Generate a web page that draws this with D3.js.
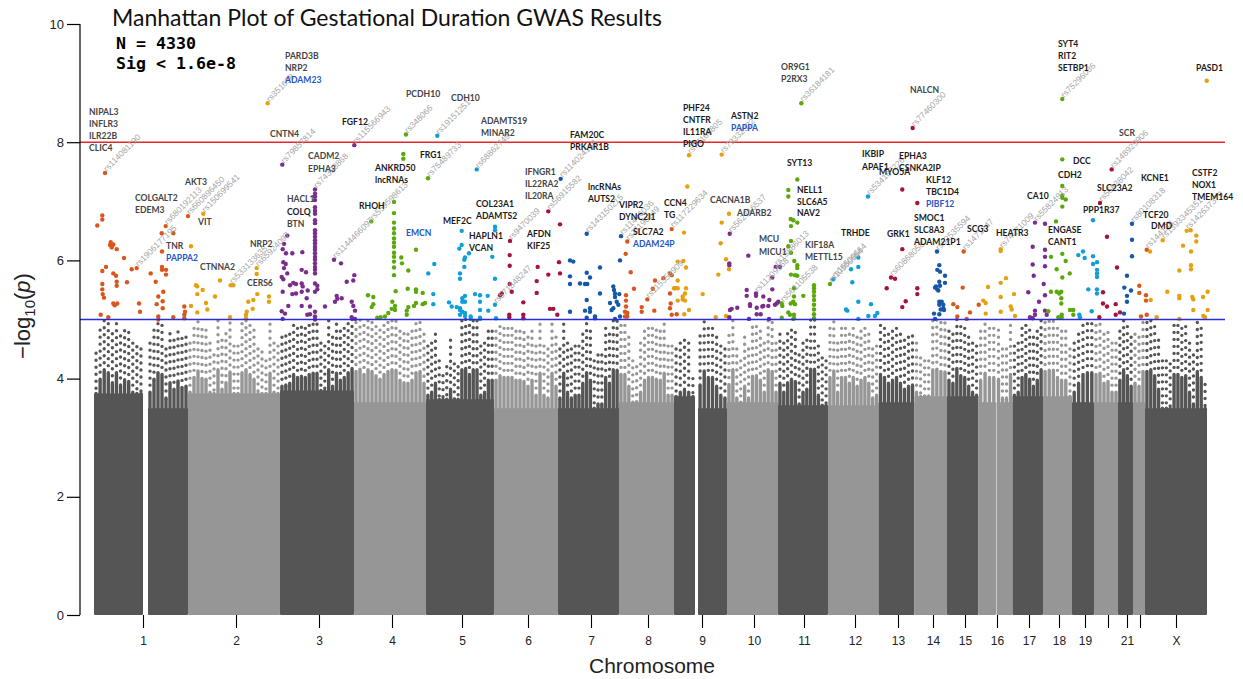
<!DOCTYPE html>
<html>
<head>
<meta charset="utf-8">
<script src="https://cdnjs.cloudflare.com/ajax/libs/d3/7.8.5/d3.min.js"></script>
<style>
  html, body { margin: 0; padding: 0; background: #fff; }
  svg { display: block; }
  text { font-family: "Liberation Sans", sans-serif; }
</style>
</head>
<body>
<div id="plot"></div>
<script>
var svgWidth = 1243;
var svgHeight = 679;

// chromosome blocks along the genome axis (chr1, chr9 and chr16 are split by their gaps)
var blockStart = [94, 148, 188, 280, 354, 426, 494, 558, 619, 674, 698, 727, 778, 828, 878.5, 914.5, 947, 978.5, 996.5, 1012.5, 1043, 1072, 1094, 1118, 1133, 1145];
var blockEnd = [143, 188, 280, 354, 426, 494, 558, 619, 674, 695, 727, 778, 828, 878.5, 914.5, 947, 978.5, 996, 1012.5, 1043, 1072, 1094, 1118, 1133, 1145, 1207];
var blockDark = [1, 1, 0, 1, 0, 1, 0, 1, 0, 1, 1, 0, 1, 0, 1, 0, 1, 0, 0, 1, 0, 1, 0, 1, 0, 1];
// level the grey cloud is solid up to, per block
var blockSolid = [3.75, 3.5, 3.75, 3.8, 3.6, 3.65, 3.5, 3.5, 3.6, 3.7, 3.5, 3.6, 3.55, 3.55, 3.6, 3.7, 3.7, 3.6, 3.6, 3.7, 3.7, 3.6, 3.6, 3.6, 3.6, 3.5];
// top of the grey cloud across each block
var blockPeaks = [
  [4.43, 4.82, 4.98, 4.93, 4.76, 4.93, 4.72, 4.81, 4.78, 4.6, 4.54, 4.5],
  [4.6, 4.82, 4.93, 4.9, 4.5, 4.76, 4.65, 4.79, 4.68, 4.7],
  [4.6, 4.85, 4.96, 4.83, 4.82, 4.6, 4.4, 4.98, 4.65, 4.76, 4.94, 4.55, 4.55, 4.93, 4.98, 4.9, 4.82, 4.5, 4.45, 4.3, 4.92, 4.6, 4.55],
  [4.7, 4.72, 4.75, 4.9, 4.85, 4.87, 4.85, 4.9, 4.92, 4.92, 4.6, 4.55, 4.98, 4.7, 4.92, 4.8, 4.85, 4.93, 5.0],
  [4.95, 4.99, 4.9, 4.98, 4.95, 4.88, 4.82, 4.9, 4.95, 4.98, 4.97, 4.8, 4.76, 4.75, 4.8, 4.93, 4.95, 4.75],
  [4.55, 4.6, 4.75, 4.3, 4.05, 4.2, 4.65, 4.25, 4.2, 4.98, 5.0, 4.9, 4.98, 4.98, 4.55, 4.6, 4.8, 4.8],
  [4.8, 4.88, 4.85, 4.85, 4.85, 4.8, 4.8, 4.78, 4.7, 4.8, 4.55, 4.92, 4.55, 4.5, 4.92, 4.7],
  [4.5, 4.92, 4.6, 4.5, 4.55, 4.55, 4.75, 4.93, 4.8, 4.3, 4.4, 4.4, 4.85, 4.75, 4.98, 4.97],
  [4.9, 4.9, 4.7, 4.3, 4.2, 4.6, 4.8, 4.85, 4.85, 4.82, 4.8, 4.92, 4.55, 4.55],
  [4.5, 4.6, 4.65, 4.6, 4.0],
  [4.72, 4.96, 4.85, 4.85, 4.7, 4.55, 4.5],
  [4.73, 4.98, 4.5, 4.3, 4.7, 4.5, 4.87, 4.88, 4.8, 4.6, 4.98, 4.95, 4.6],
  [4.75, 4.6, 4.76, 4.82, 4.78, 4.4, 4.6, 4.65, 4.99, 4.99, 4.55, 4.35, 4.3],
  [4.85, 4.96, 4.6, 4.85, 4.85, 4.75, 4.85, 4.7, 4.8, 4.85, 4.75, 4.5, 4.55],
  [4.9, 4.85, 4.75, 4.8, 4.85, 4.75, 4.65, 4.7, 4.72],
  [4.6, 4.35, 4.3, 4.3, 4.98, 4.99, 4.95, 4.94],
  [4.8, 4.75, 5.0, 4.88, 4.85, 4.7, 4.6, 4.55],
  [4.8, 4.92, 4.85, 4.85],
  [4.82, 4.5, 4.5, 4.9],
  [4.55, 4.6, 4.85, 4.9, 4.82, 4.7, 4.8, 4.98],
  [4.95, 4.97, 4.97, 4.85, 4.8, 4.8, 4.5],
  [4.6, 4.75, 4.9, 4.93, 4.93],
  [4.9, 4.92, 4.75, 4.78, 4.6, 4.6],
  [4.8, 4.98, 4.88, 4.7],
  [4.75, 4.7, 4.95],
  [4.95, 4.98, 4.88, 4.65, 4.3, 4.3, 4.25, 4.9, 4.9, 4.85, 4.88, 4.6, 4.4, 4.95, 4.85, 3.9]
];

// variants above -log10(p) = 5, [genome position, -log10(p)]
var hitsRed = [[105,7.48],[102.3,6.76],[102.3,6.69],[97.3,6.59],[110.7,6.31],[110,6.26],[112.7,6.26],[111.7,6.22],[113.3,6.27],[116.7,6.19],[124,6.04],[106,5.89],[102.3,5.82],[113.3,5.78],[116,5.74],[116.7,5.64],[116.7,5.57],[102.3,5.6],[102.3,5.51],[102.7,5.43],[104,5.37],[113.3,5.27],[114.7,5.24],[117.3,5.27],[127,5.63],[100.7,5.08],[108.3,5.04],[131.7,5.85],[136.7,5.87],[150.7,5.78],[155.7,5.64],[162,5.89],[162,5.84],[166,5.84],[166,5.76],[163.3,5.47],[158.3,5.39],[156.7,5.26],[162.7,5.31],[162.7,5.19],[139,5.27],[140,5.13],[158.3,5.05],[158.3,5],[173.3,5.04],[184.3,5.22],[185,5.13],[184.3,5.08],[184.3,5.02],[162,6.15],[161.7,6.46],[173.3,6.46],[165.7,6.58],[188,6.75],
  [627.3,6.32],[625.7,6.11],[630.7,5.8],[634,5.52],[626,5.41],[626,5.32],[626,5.22],[625,5.13],[627.3,5.11],[627.3,5.05],[625,5.05],[671.7,6.53],[655,5.66],[652.7,5.52],[647.3,5.34],[641.7,5.21],[641.7,5.13],[654.3,5.15],[663.3,5.7],[670,5.78],[671.7,5.75],[670,5.44],[675,5.53],[670.7,5.27],[670,5.19],[671.7,5.08],[676.7,5.09],
  [963.7,6.15],[962.7,5.54],[953.3,5.26],[957.3,5.21],[957.3,5.05],[970,5.12],[978.7,5.25],[966.7,5.01],
  [1146.7,6.18],[1139.3,5.57],[1139.3,5.45],[1146,5.41],[1146,5.32],[1146.7,5.08],[1141,5.05]];
var hitsAmber = [[267.7,8.66],[203.3,6.79],[191,6.24],[220,5.66],[230.7,5.58],[233.3,5.58],[196,5.58],[197.3,5.56],[202.7,5.5],[197.3,5.43],[215,5.39],[206,5.28],[207.3,5.17],[191,5.23],[197.3,5.12],[230,5.04],[246.7,5.13],[246,5.08],[246,5.02],[248.3,5.3],[253.3,5.33],[252.7,5.18],[256.7,5.87],[256.7,5.77],[257.3,5.43],[269,5.39],[269,5.3],
  [689,7.78],[721.7,7.79],[687.3,7.25],[684,6.47],[677.7,5.98],[683.3,5.99],[686,5.88],[677.7,5.66],[674,5.53],[677.7,5.53],[686,5.53],[685,5.44],[682.7,5.39],[682.7,5.34],[677.7,5.32],[685,5.32],[689,5.16],[684.3,5.09],[702.7,5.43],[729,6.79],[721.7,6.64],[720.7,6.29],[726,6.02],[729,5.85],[718.3,5.76],[715.7,5.04],[726,5.06],
  [1000.7,6.19],[1000.7,6.16],[1006,5.7],[1000.7,5.62],[988,5.55],[1000.7,5.38],[1014,5.43],[983.3,5.32],[985.7,5.28],[985.7,5.1],[1010.7,5.22],[1011.7,5.17],[1000.7,5.13],[1015,5.06],
  [1206.7,9.04],[1150,6.15],[1162.7,6.34],[1186.7,6.5],[1190.7,6.51],[1196.3,6.42],[1196.3,6.32],[1183,6.25],[1191,6.15],[1191,5.92],[1191,5.85],[1179.3,5.83],[1167.3,5.47],[1179.3,5.4],[1179.3,5.36],[1192.3,5.38],[1193.3,5.34],[1203,5.38],[1207.7,5.47],[1193.3,5.16],[1207.7,5.16],[1203.3,5.06],[1205,5.04],[1179.3,5.01],[1156.7,5.04],[1150.7,5.33]];
var hitsPurple = [[282.3,7.62],[354.3,7.95],[315,7.2],[315,7.13],[315,7.08],[315,7.02],[315,6.9],[315,6.84],[315,6.79],[315,6.68],[315,6.63],[315,6.51],[315,6.46],[315,6.4],[315,6.34],[315,6.29],[315,6.23],[315,6.18],[315,6.12],[315,6.06],[315,6.01],[315,5.95],[315,5.89],[315,5.84],[315,5.78],[287.3,6.42],[284,6.28],[282.7,6.19],[286,6.12],[292.3,6.12],[302.3,6.14],[283.3,5.97],[285.7,5.94],[284,5.87],[287.3,5.78],[281.7,5.72],[283.3,5.68],[301.7,5.84],[306,5.8],[282.7,5.47],[290,5.58],[293.3,5.62],[296,5.6],[301.7,5.61],[302.7,5.56],[301.7,5.47],[292.3,5.43],[296,5.44],[307.7,5.49],[306.7,5.36],[288.3,5.23],[301.7,5.23],[281.7,5.14],[285,5.1],[282.7,5.01],[310,5.22],[315,5.61],[317.3,5.57],[317.3,5.51],[315,5.47],[325,5.22],[307.3,5.08],[310,5.09],[315,5.13],[315,5.05],[315,5],[334,6.01],[341,5.95],[346.7,5.64],[354.3,5.75],[353.3,5.66],[336.7,5.4],[337.3,5.35],[341.7,5.36],[335,5.3],[351.7,5.3],[353.3,5.23],[355,5.15],[351.7,5.04],[355,5.01],
  [729.7,6.45],[748.3,6.08],[729.3,5.95],[729.3,5.92],[775.7,5.89],[780,5.89],[772.3,5.71],[746.7,5.5],[756,5.44],[756,5.4],[746.7,5.4],[763.3,5.39],[772.3,5.51],[750,5.26],[750,5.23],[769.3,5.33],[756.7,5.2],[762.3,5.22],[763.3,5.23],[768.3,5.23],[760.7,5.09],[756.7,5.09],[775,5.25],[776.7,5.27],[778.3,5.3],[737.3,5.2],[731.7,5.18],[730,5.16],[729.3,5.04],[769,5.01],[749,5.01],
  [1035,6.64],[1045,6.62],[1032.7,6.23],[1045,6.18],[1045,6.06],[1032.7,5.93],[1045,5.9],[1033.7,5.74],[1043.7,5.6],[1028.3,5.46],[1045,5.41],[1039,5.3],[1035,5.15],[1045,5.15],[1035,5.08],[1030,5.04],[1032.7,5.02],[1046.7,5.08]];
var hitsGreen = [[371.3,6.66],[406,8.13],[403.3,7.8],[403.3,7.72],[428,7.39],[394,6.99],[394,6.8],[394,6.64],[394,6.54],[394,6.46],[394,6.37],[394,6.3],[394,6.23],[394,6.13],[394,6.06],[394,5.98],[394,5.88],[394,5.75],[416,6.18],[401.3,6.05],[402,5.95],[408.3,5.83],[368,5.41],[373.3,5.38],[373.3,5.26],[371.7,5.21],[395.7,5.48],[407.7,5.52],[416,5.51],[416,5.47],[422.7,5.45],[425,5.28],[422.7,5.26],[416,5.28],[414,5.23],[408.3,5.21],[406.7,5.15],[406.7,5.08],[392.3,5.3],[395,5.23],[395,5.16],[391.7,5.18],[388.3,5.11],[385,5.05],[380.7,5.04],[377.3,5.03],
  [801.3,8.66],[797.3,7.37],[788.3,7.19],[788.3,7.08],[790.7,6.7],[793.3,6.68],[797.3,6.64],[791,6.58],[791,6.33],[788.3,6.24],[791,6.13],[794.3,5.99],[797.3,5.92],[797.3,5.87],[791,5.76],[795,5.75],[797.3,5.74],[814,5.58],[814,5.53],[814,5.47],[814,5.4],[814,5.33],[814,5.25],[814,5.17],[814,5.09],[814,5.02],[803.3,5.4],[794,5.53],[794,5.39],[793.3,5.3],[790.7,5.27],[795,5.26],[781.7,5.27],[782.3,5.23],[788.3,5.12],[790,5.08],[794,5.08],[781.7,5.03],[794,5.02],[793.3,5.01],[830,5.6],
  [1062.3,8.73],[1062.3,7.71],[1062.3,7.26],[1062.3,7.1],[1062.3,7.06],[1065.7,7.03],[1062.3,6.91],[1056,6.66],[1062.3,6.11],[1051,6.06],[1065.7,5.99],[1056.7,5.85],[1069.7,5.78],[1062.3,5.71],[1051,5.47],[1056.7,5.47],[1059.3,5.44],[1061.3,5.47],[1061.3,5.36],[1061.3,5.27],[1048.3,5.14],[1070,5.16],[1073.3,5.16],[1073.3,5.08],[1061.7,5.08],[1058.3,5.04],[1061.7,5.04]];
var hitsSky = [[437.3,8.11],[476.7,7.54],[461.7,6.5],[495,6.57],[495,6.51],[461.7,6.26],[459.3,6.2],[469,6.12],[465,6.05],[464.3,6.01],[464.3,5.89],[492.3,6.06],[434.3,5.94],[428.3,5.78],[460,5.78],[460,5.69],[495,5.69],[433.3,5.43],[433.3,5.26],[449,5.29],[451.7,5.22],[456.7,5.21],[460,5.19],[465,5.4],[462.3,5.36],[462.3,5.3],[465,5.3],[460,5.16],[462.3,5.13],[465,5.11],[460,5.08],[465,5.06],[470.7,5.05],[475,5.43],[480,5.41],[487.7,5.4],[480,5.3],[495,5.25],[480,5.16],[488.3,5.15],[480,5.03],[496,5.02],[470.7,5.01],[480,5.01],
  [833.3,5.68],[858.3,6.05],[851,5.85],[858.3,5.89],[852.3,5.63],[858.3,5.3],[871,5.26],[846,5.17],[847.3,5.15],[877.3,5.11],[875,5.06],[868.3,5.06],[858.3,5.01],[868,7.08],
  [1093,6.68],[1078.3,6.09],[1083,6.15],[1084.7,6.04],[1093,6.07],[1097,5.97],[1093,5.94],[1097,5.84],[1097,5.78],[1097,5.72],[1088.3,5.51],[1097,5.51],[1097,5.44],[1091.7,5.14],[1079.3,5.08],[1080,5.04]];
var hitsCrimson = [[548.3,6.83],[560,6.61],[510,6.33],[509.7,6.09],[509.7,5.91],[537.7,5.89],[536.7,5.65],[509.7,5.6],[511.7,5.47],[536.7,5.45],[559,5.97],[548.3,5.76],[560,5.78],[500,5.41],[501.7,5.44],[523.3,5.29],[550,5.18],[553.3,5.18],[557.3,5.08],[509.3,5.08],[509.3,5.04],[523.3,5.08],[523.3,5.02],
  [912.7,8.24],[902.3,7.2],[917.3,6.97],[902.3,6.19],[891,5.71],[895,5.69],[886.7,5.53],[917.3,5.53],[917.3,5.43],[905.7,5.31],[902.3,5.21],
  [1111.7,7.54],[1100,6.97],[1107,6.4],[1117,5.88],[1103,5.46],[1103,5.27],[1107,5.22],[1115.7,5.26],[1120,5.12],[1115.7,5.08],[1099.3,5.04]];
var hitsBlue = [[560.7,7.38],[586.7,6.45],[621,6.41],[620,6],[570,6],[573.3,5.98],[600,5.88],[586.7,5.79],[570,5.73],[590,5.71],[570,5.6],[580,5.61],[585,5.6],[587.3,5.6],[600,5.44],[613.3,5.56],[614,5.5],[615,5.44],[619.3,5.43],[615,5.38],[610,5.28],[616.7,5.3],[613.3,5.19],[611.7,5.16],[618.3,5.25],[586.7,5.33],[570,5.13],[585,5.15],[590,5.19],[590,5.13],[586.7,5.03],[595,5.05],[595,5.02],[615,5.01],[620,5.05],
  [937,6.15],[939.3,5.92],[937.3,5.84],[940,5.81],[945,5.74],[939.3,5.64],[945,5.62],[936,5.56],[935,5.54],[937.3,5.51],[938.3,5.49],[940,5.57],[939.3,5.3],[941.7,5.3],[939.3,5.25],[943.3,5.25],[943.3,5.19],[940.7,5.17],[944,5.16],[934,5.1],[935,5.01],[939.3,5.09],
  [1132,6.62],[1132,6.35],[1132,6.07],[1127,5.74],[1124.3,5.54],[1131,5.49],[1127,5.4],[1127,5.3],[1124,5.1]];

var hitGroups = [
  { color: "#d9561c", points: hitsRed },
  { color: "#e5a00d", points: hitsAmber },
  { color: "#7b2d8e", points: hitsPurple },
  { color: "#5aa80a", points: hitsGreen },
  { color: "#0f9fd8", points: hitsSky },
  { color: "#a5123c", points: hitsCrimson },
  { color: "#1557a8", points: hitsBlue }
];

var tickPositions = [143, 236, 319, 392, 462, 528, 591, 648, 702, 754, 804, 855, 898, 933, 965, 997, 1029, 1059, 1085, 1108, 1127, 1140, 1176];
var tickLabels = ["1", "2", "3", "4", "5", "6", "7", "8", "9", "10", "11", "12", "13", "14", "15", "16", "17", "18", "19", "", "21", "", "X"];
var yTicks = [0, 2, 4, 6, 8, 10];

// lead variants, [id, genome position, -log10(p)]
var rsLabels = [["rs114081190",105,7.48],["rs1906177195",136.7,5.87],["rs680192113",165.7,6.58],["rs660896450",188,6.75],["rs150699541",203.3,6.79],["rs533133635",230.7,5.58],["rs65924097",256.7,5.87],["rs351698",267.7,8.66],["rs79857814",282.3,7.62],["rs74393868",315,7.2],["rs115566943",354.3,7.95],["rs1144466097",334,6.01],["rs559598613",371.3,6.66],["rs348066",406,8.13],["rs19151251",437.3,8.11],["rs75489733",428,7.39],["rs68862749",476.7,7.54],["rs114024168",560.7,7.38],["rs56915582",548.3,6.83],["rs9470039",510,6.33],["rs571848247",495,5.25],["rs143150215",586.7,6.45],["rs11446036",621,6.41],["rs11190249",627.3,6.32],["rs115358909",647.3,5.34],["rs117229634",671.7,6.53],["rs77166805",689,7.78],["rs79332322",721.7,7.79],["rs562716537",729.7,6.45],["rs36184181",801.3,8.66],["rs11209568",756,5.44],["rs13886013",775.7,5.89],["rs561105538",781.7,5.27],["rs10550664",830,5.6],["rs16509664",833.3,5.68],["rs534187226",868,7.08],["rs60868058",891,5.71],["rs77460300",912.7,8.24],["rs62535594",937,6.15],["rs1471247",963.7,6.15],["rs74271009",1000.7,6.19],["rs55824913",1035,6.64],["rs75296036",1062.3,8.73],["rs148929906",1111.7,7.54],["rs56638042",1100,6.97],["rs80108318",1132,6.62],["rs144138",1146.7,6.18],["rs1393345351",1162.7,6.34],["rs142637379",1186.7,6.5]];

// gene annotations: [name, left edge, line centre, kind]  kind 0 grey, 1 black, 2 blue
var geneLabels = [["NIPAL3",89,112,0],["INFLR3",89,124,0],["ILR22B",89,136,0],["CLIC4",89,148,0],["COLGALT2",135,198,0],["EDEM3",135,210,0],["AKT3",185,182,0],["VIT",198,222,0],["TNR",166,246,0],["PAPPA2",166,258,2],["CTNNA2",200,267,0],["NRP2",250,244,0],["CERS6",247,283,0],["HACL1",287,199,0],["COLQ",287,212,1],["BTN",287,224,0],["PARD3B",285,56,0],["NRP2",285,68,0],["ADAM23",285,80,2],["CNTN4",270,134,0],["CADM2",308,156,0],["EPHA3",308,169,0],["RHOH",359,206,1],["FGF12",342,122,1],["PCDH10",406,94,0],["CDH10",451,98,0],["ADAMTS19",481,121,0],["MINAR2",481,133,0],["FRG1",420,155,1],["ANKRD50",375,168,1],["lncRNAs",375,180,1],["EMCN",406,233,2],["MEF2C",443,221,1],["COL23A1",476,204,1],["ADAMTS2",476,216,1],["HAPLN1",469,236,1],["VCAN",469,248,1],["AFDN",527,234,1],["KIF25",527,246,1],["IFNGR1",525,172,0],["IL22RA2",525,184,0],["IL20RA",525,196,0],["FAM20C",570,135,1],["PRKAR1B",570,147,1],["lncRNAs",588,187,1],["AUTS2",588,199,1],["VIPR2",619,205,1],["DYNC2I1",619,217,1],["SLC7A2",633,232,1],["ADAM24P",633,244,2],["CCN4",664,203,1],["TG",664,215,1],["PHF24",683,108,1],["CNTFR",683,120,1],["IL11RA",683,132,1],["PIGO",683,144,1],["ASTN2",731,116,1],["PAPPA",731,128,2],["CACNA1B",710,200,0],["ADARB2",737,213,0],["MCU",759,239,0],["MICU1",759,252,0],["OR9G1",781,67,0],["P2RX3",781,79,0],["SYT13",787,163,1],["NELL1",797,190,1],["SLC6A5",797,202,1],["NAV2",797,213,1],["KIF18A",805,245,0],["METTL15",805,257,0],["TRHDE",841,233,1],["GRK1",887,234,1],["IKBIP",862,154,1],["APAF1",862,167,1],["MYO5A",879,172,1],["EPHA3",899,156,1],["CSNKA2IP",899,168,1],["NALCN",910,90,0],["KLF12",926,180,1],["TBC1D4",926,192,1],["PIBF12",926,204,2],["SMOC1",914,218,1],["SLC8A3",914,230,1],["ADAM21P1",914,242,1],["SCG3",967,229,1],["HEATR3",996,233,1],["CA10",1027,196,1],["SYT4",1058,44,1],["RIT2",1058,56,1],["SETBP1",1058,68,1],["DCC",1073,161,1],["CDH2",1058,175,1],["ENGASE",1048,230,1],["CANT1",1048,242,1],["SCR",1119,133,0],["SLC23A2",1097,188,1],["PPP1R37",1083,210,1],["KCNE1",1141,178,1],["TCF20",1143,215,1],["DMD",1151,226,1],["CSTF2",1192,173,1],["NOX1",1192,185,1],["TMEM164",1192,197,1],["PASD1",1196,68,1]];
var geneColors = ["#444444", "#1a1a1a", "#2456c8"];

var svg = d3.select("#plot")
  .append("svg")
  .attr("width", svgWidth)
  .attr("height", svgHeight);

// genome position runs in plot units
var xScale = d3.scaleLinear().domain([80, 1225]).range([80, 1225]);
var yScale = d3.scaleLinear().domain([0, 10]).range([615, 24]);

var dark = "#555555";
var light = "#969696";

// grey cloud: solid block, a filled stem under each peak, dots above the stem
var cloud = svg.append("g");
blockPeaks.forEach(function(peaks, b) {
  var shade = blockDark[b] ? dark : light;
  var step = (blockEnd[b] - blockStart[b]) / peaks.length;
  cloud.append("rect")
    .attr("x", xScale(blockStart[b]))
    .attr("y", yScale(blockSolid[b]))
    .attr("width", xScale(blockEnd[b]) - xScale(blockStart[b]))
    .attr("height", yScale(0) - yScale(blockSolid[b]))
    .attr("rx", 1)
    .attr("fill", shade);
  peaks.forEach(function(p, i) {
    var pos = blockStart[b] + (i + 0.5) * step;
    var stem = Math.max(p - 0.85, blockSolid[b]);
    cloud.append("line")
      .attr("x1", xScale(pos)).attr("x2", xScale(pos))
      .attr("y1", yScale(stem)).attr("y2", yScale(blockSolid[b]))
      .attr("stroke", shade)
      .attr("stroke-width", 3.4)
      .attr("stroke-linecap", "round");
    cloud.append("line")
      .attr("x1", xScale(pos)).attr("x2", xScale(pos))
      .attr("y1", yScale(p)).attr("y2", yScale(stem))
      .attr("stroke", shade)
      .attr("stroke-width", 3.4)
      .attr("stroke-linecap", "round")
      .attr("stroke-dasharray", "0 7");
  });
});

// coloured hits
hitGroups.forEach(function(group) {
  svg.append("g").selectAll("circle")
    .data(group.points)
    .enter()
    .append("circle")
    .attr("cx", d => xScale(d[0]))
    .attr("cy", d => yScale(d[1]))
    .attr("r", 2.2)
    .attr("fill", group.color);
});

// threshold lines
svg.append("line")
  .attr("x1", xScale(80)).attr("x2", xScale(1225))
  .attr("y1", yScale(8)).attr("y2", yScale(8))
  .attr("stroke", "#e5262b")
  .attr("stroke-width", 1.4);
svg.append("line")
  .attr("x1", xScale(80)).attr("x2", xScale(1225))
  .attr("y1", yScale(5)).attr("y2", yScale(5))
  .attr("stroke", "#2a2ae0")
  .attr("stroke-width", 1.4);

// rs ids, rotated next to their point
svg.append("g").selectAll("text")
  .data(rsLabels)
  .enter()
  .append("text")
  .attr("transform", d => `translate(${xScale(d[1]) + 2}, ${yScale(d[2]) - 1}) rotate(-45)`)
  .attr("font-size", "8.5px")
  .attr("fill", "#a6a6a6")
  .text(d => d[0]);

// gene names
svg.append("g").selectAll("text")
  .data(geneLabels)
  .enter()
  .append("text")
  .attr("x", d => d[1])
  .attr("y", d => d[2] + 3.2)
  .attr("font-size", "8.6px")
  .attr("font-weight", "bold")
  .style("font-family", "Lato")
  .attr("fill", d => geneColors[d[3]])
  .text(d => d[0]);

// axes
var leftAxis = d3.axisLeft(yScale).tickValues(yTicks).tickSize(13).tickFormat(d3.format("d"));
var yAxis = svg.append("g")
  .attr("transform", "translate(80, 0)")
  .call(leftAxis);
yAxis.select(".domain").attr("stroke-width", 1.2).attr("d", "M0,24V615");
yAxis.selectAll(".tick line").attr("stroke-width", 1.2);
yAxis.selectAll("text").attr("font-size", "13px").attr("fill", "#222").attr("font-family", "Liberation Sans");

var bottomAxis = d3.axisBottom(xScale)
  .tickValues(tickPositions)
  .tickSize(13)
  .tickPadding(8)
  .tickFormat((d, i) => tickLabels[i]);
var xAxis = svg.append("g")
  .attr("transform", "translate(0, 615)")
  .call(bottomAxis);
xAxis.select(".domain").remove();
xAxis.selectAll(".tick line").attr("stroke-width", 1.1);
xAxis.selectAll("text").attr("font-size", "12px").attr("fill", "#222").attr("font-family", "Liberation Sans");

svg.append("text")
  .attr("x", 652)
  .attr("y", 673)
  .attr("text-anchor", "middle")
  .attr("font-size", "21px")
  .attr("fill", "#222")
  .text("Chromosome");

var yLabel = svg.append("text")
  .attr("transform", "translate(30, 316) rotate(-90)")
  .attr("text-anchor", "middle")
  .attr("font-size", "22px")
  .attr("fill", "#222");
yLabel.append("tspan").text("\u2212log");
yLabel.append("tspan").attr("font-size", "15px").attr("dy", 5).text("10");
yLabel.append("tspan").attr("dy", -5).text("(");
yLabel.append("tspan").attr("font-style", "italic").text("p");
yLabel.append("tspan").text(")");

// headline
svg.append("text")
  .attr("x", 112)
  .attr("y", 26)
  .attr("font-size", "23px")
  .style("font-family", "Lato")
  .attr("fill", "#111")
  .text("Manhattan Plot of Gestational Duration GWAS Results");
svg.append("text")
  .attr("x", 116)
  .attr("y", 49)
  .attr("font-size", "16.6px")
  .attr("font-weight", "bold")
  .style("font-family", "DejaVu Sans Mono")
  .text("N = 4330");
svg.append("text")
  .attr("x", 116)
  .attr("y", 69)
  .attr("font-size", "16.6px")
  .attr("font-weight", "bold")
  .style("font-family", "DejaVu Sans Mono")
  .text("Sig < 1.6e-8");
</script>
</body>
</html>
